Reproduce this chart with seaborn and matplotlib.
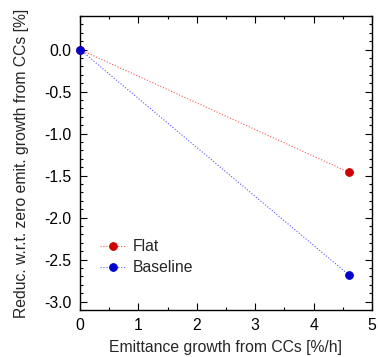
import numpy as np
import pandas as pd
import matplotlib
matplotlib.use("Agg")
import matplotlib.pyplot as plt
import seaborn as sns
from matplotlib.ticker import MultipleLocator, FormatStrFormatter

# data
emit_growth = [0.0, 4.6]
flat = [0.0, -1.46]
baseline = [0.0, -2.68]

series_names = ["Flat", "Baseline"]
line_colors = ["#ff5555", "#5555ff"]
marker_colors = ["#cc0000", "#0000cc"]

df = pd.DataFrame({
    "x": emit_growth * 2,
    "y": flat + baseline,
    "case": ["Flat"] * 2 + ["Baseline"] * 2,
})

sns.set_theme(style="ticks")
plt.rcParams["font.family"] = ["Liberation Sans", "DejaVu Sans"]
plt.rcParams["axes.unicode_minus"] = False

fs = 11.3
fig = plt.figure(figsize=(3.78, 3.57), dpi=100)
ax = fig.add_axes([0.2116, 0.1317, 0.7725, 0.8236])

for name, lc, mc in zip(series_names, line_colors, marker_colors):
    sub = df[df["case"] == name]
    sns.lineplot(data=sub, x="x", y="y", ax=ax, color=lc, lw=0.8,
                 linestyle=":", marker="o", markersize=5.5,
                 markerfacecolor=mc, markeredgecolor=mc,
                 label=name, clip_on=False, zorder=3)

ax.set_xlim(0, 5)
ax.set_ylim(-3.1, 0.4)
ax.xaxis.set_major_locator(MultipleLocator(1))
ax.xaxis.set_minor_locator(MultipleLocator(0.5))
ax.yaxis.set_major_locator(MultipleLocator(0.5))
ax.yaxis.set_minor_locator(MultipleLocator(0.1))
ax.yaxis.set_major_formatter(FormatStrFormatter("%.1f"))
ax.tick_params(which="both", direction="in", top=True, right=True,
               labelsize=fs, colors="black", width=0.8)
ax.tick_params(which="major", length=5, pad=6)
ax.tick_params(which="minor", length=2.5)
for s in ax.spines.values():
    s.set_linewidth(1.0)
    s.set_color("black")

ax.set_xlabel("Emittance growth from CCs [%/h]", fontsize=fs, labelpad=5)
ax.set_ylabel("Reduc. w.r.t. zero emit. growth from CCs [%]", fontsize=fs, labelpad=11)

ax.legend(loc="lower left", bbox_to_anchor=(0.02, 0.07), frameon=False,
          fontsize=fs, handlelength=1.6, handletextpad=0.5, labelspacing=0.4)

fig.savefig("out.png", dpi=100)
